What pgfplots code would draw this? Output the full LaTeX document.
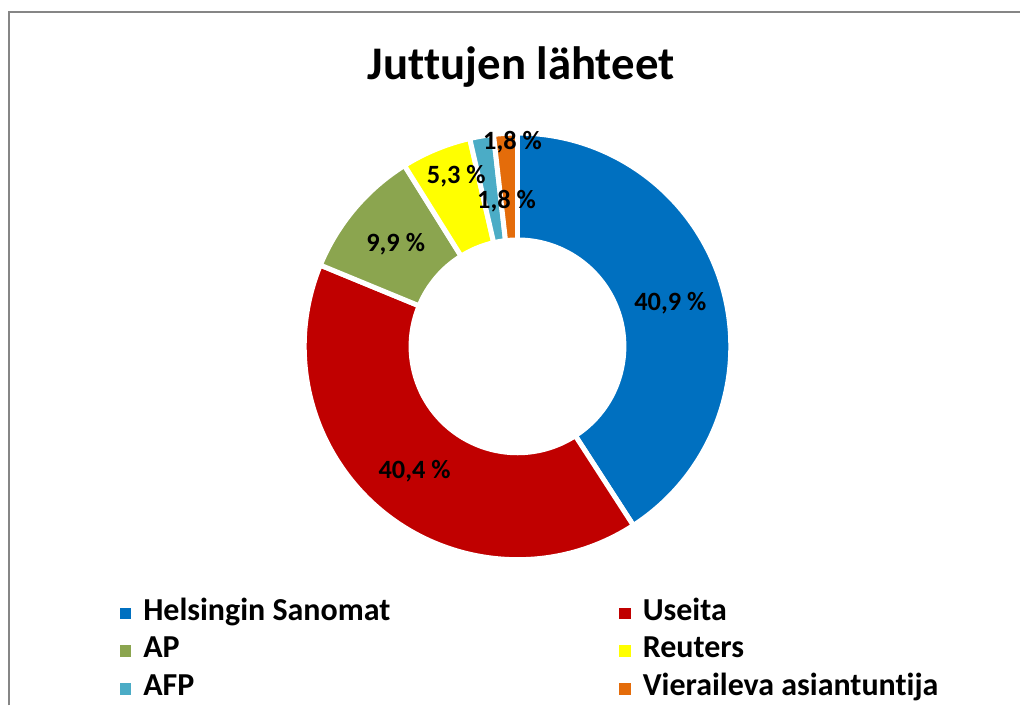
\documentclass[border=0pt]{standalone}
\usepackage{fontspec}
\setmainfont{Carlito}[RawFeature={-liga;-clig;-dlig;-calt}]
\usepackage{pgfplots}
\pgfplotsset{compat=1.18}
\usepackage{pgfplotstable}
\usetikzlibrary{calc}

\definecolor{c0}{HTML}{0070C0}
\definecolor{c1}{HTML}{C00000}
\definecolor{c2}{HTML}{8BA54F}
\definecolor{c3}{HTML}{FFFF00}
\definecolor{c4}{HTML}{4BACC6}
\definecolor{c5}{HTML}{E46C0A}
\definecolor{frame}{HTML}{868686}

% share in percent, label position in px (y down)
\pgfplotstableread[col sep=comma]{
name,pct,lx,ly
Helsingin Sanomat,40.9,671,310.5
Useita,40.4,415,478.5
AP,9.9,396,251.5
Reuters,5.3,456.7,183.5
AFP,1.8,507,209
Vieraileva asiantuntija,1.8,513,150
}\srcs

\newcommand\storecol[2]{%
  \pgfplotstableforeachcolumnelement{#1}\of\srcs\as\cell{%
    \expandafter\xdef\csname #2\pgfplotstablerow\endcsname{\cell}}}
\storecol{name}{n}\storecol{pct}{p}\storecol{lx}{lx}\storecol{ly}{ly}

% running angles, clockwise from the top
\gdef\tot{0}
\foreach \i in {0,...,5}{\edef\v{\csname p\i\endcsname}\pgfmathparse{\tot+\v}\xdef\tot{\pgfmathresult}}
\gdef\acc{90}
\foreach \i in {0,...,5}{%
  \edef\v{\csname p\i\endcsname}%
  \expandafter\xdef\csname s\i\endcsname{\acc}%
  \pgfmathparse{\acc-360*\v/\tot}\xdef\acc{\pgfmathresult}%
  \expandafter\xdef\csname e\i\endcsname{\acc}}

\def\Ro{106.75pt}
\def\Ri{53.25pt}
\def\cx{518}
\def\cy{346.7}
\newcommand\lbfont{\fontsize{13.2}{16}\selectfont\bfseries}
\newcommand\lgfont{\fontsize{16}{19}\selectfont\bfseries}

\begin{document}
\begin{tikzpicture}
\begin{axis}[
  scale only axis, width=510.5pt, height=353pt,
  xmin=0, xmax=1021, ymin=0, ymax=706, y dir=reverse,
  hide axis, clip=false,
  /pgf/number format/assume math mode=true,
]
  \path (axis cs:0,0) rectangle (axis cs:1021,706);
  \draw[frame, line width=1pt] (axis cs:9.3,706) -- (axis cs:9.3,12) -- (axis cs:1021,12);

  \node[anchor=base, font=\fontsize{23.4}{28}\selectfont\bfseries] at (axis cs:521.7,80) {Juttujen lähteet};

  \pgfplotsinvokeforeach{0,...,5}{%
    \edef\temp{\noexpand\filldraw[fill=c#1, draw=white, line width=2.5pt]
      ($(axis cs:\cx,\cy)+(\csname s#1\endcsname:\Ro)$)
      arc[start angle=\csname s#1\endcsname, end angle=\csname e#1\endcsname, radius=\Ro]
      -- ($(axis cs:\cx,\cy)+(\csname e#1\endcsname:\Ri)$)
      arc[start angle=\csname e#1\endcsname, end angle=\csname s#1\endcsname, radius=\Ri]
      -- cycle;}\temp}

  \pgfplotsinvokeforeach{0,...,5}{%
    \edef\temp{\noexpand\node[anchor=base, inner sep=0pt, font=\noexpand\lbfont]
      at (axis cs:\csname lx#1\endcsname,\csname ly#1\endcsname)
      {\noexpand\pgfmathprintnumber[fixed,fixed zerofill,precision=1,use comma,assume math mode=true]{\csname p#1\endcsname}\noexpand~\noexpand\%};}\temp}

  % legend, two columns
  \pgfplotsinvokeforeach{0,...,5}{%
    \pgfmathtruncatemacro\col{mod(#1,2)}%
    \pgfmathtruncatemacro\row{div(#1,2)}%
    \pgfmathsetmacro\mx{120+500*\col}%
    \pgfmathsetmacro\tx{143+500*\col}%
    \pgfmathsetmacro\by{620.7+37.65*\row}%
    \pgfmathsetmacro\my{\by-6.5}%
    \edef\temp{\noexpand\fill[c#1] (axis cs:\mx,\my-5.8) rectangle (axis cs:\mx+11.6,\my+5.8);
      \noexpand\node[anchor=base west, inner sep=0pt, font=\noexpand\lgfont]
      at (axis cs:\tx,\by) {\csname n#1\endcsname};}\temp}
\end{axis}
\end{tikzpicture}
\end{document}
